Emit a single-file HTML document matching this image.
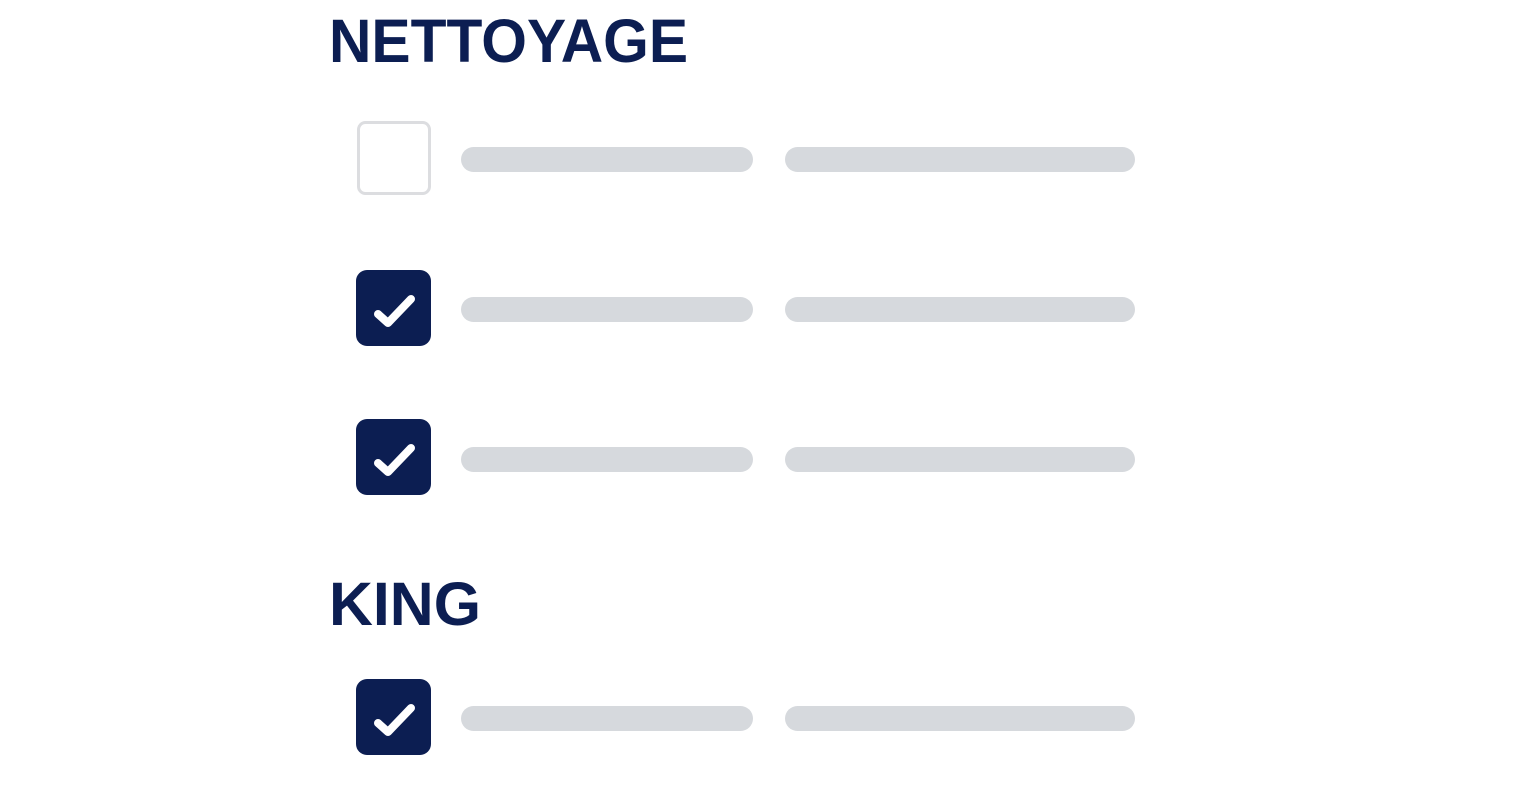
<!DOCTYPE html>
<html><head><style>html,body{margin:0;padding:0;background:#fff;}svg{display:block}</style></head>
<body>
<svg width="1536" height="785" xmlns="http://www.w3.org/2000/svg">
<g font-family="Liberation Sans, sans-serif" font-weight="bold" fill="#0c1e52">
<text x="329" y="62" font-size="61" textLength="359" lengthAdjust="spacingAndGlyphs">NETTOYAGE</text>
<text x="329" y="625" font-size="61" textLength="152" lengthAdjust="spacingAndGlyphs">KING</text>
</g>
<rect x="358.5" y="122.5" width="71" height="71" rx="7" fill="#fff" stroke="#dcdde0" stroke-width="3"/>
<g fill="#d6d9dd">
<rect x="461" y="147" width="292" height="25" rx="12.5"/><rect x="785" y="147" width="350" height="25" rx="12.5"/>
<rect x="461" y="297" width="292" height="25" rx="12.5"/><rect x="785" y="297" width="350" height="25" rx="12.5"/>
<rect x="461" y="447" width="292" height="25" rx="12.5"/><rect x="785" y="447" width="350" height="25" rx="12.5"/>
<rect x="461" y="706" width="292" height="25" rx="12.5"/><rect x="785" y="706" width="350" height="25" rx="12.5"/>
</g>
<g fill="#0c1e52">
<rect x="356" y="270" width="75" height="76" rx="11"/>
<rect x="356" y="419" width="75" height="76" rx="11"/>
<rect x="356" y="679" width="75" height="76" rx="11"/>
</g>
<g fill="none" stroke="#fff" stroke-width="8" stroke-linecap="round" stroke-linejoin="round">
<path d="M378 314 L388 323 L411 299"/>
<path d="M378 463 L388 472 L411 448"/>
<path d="M378 723 L388 732 L411 708"/>
</g>
</svg>
</body></html>
